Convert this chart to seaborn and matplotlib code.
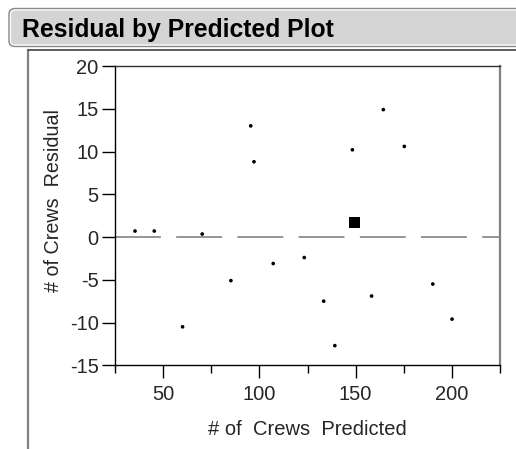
import matplotlib
matplotlib.use("Agg")
import matplotlib.pyplot as plt
import seaborn as sns
import pandas as pd
from matplotlib.patches import FancyBboxPatch
from matplotlib.lines import Line2D

# Residuals against predicted crew counts
predicted = [35.4, 45.4, 60.1, 70.3, 85.2, 95.5, 97.2, 107.2, 123.3, 133.4,
             139.2, 148.3, 158.3, 164.4, 175.3, 190.1, 200.1]
residual = [0.7, 0.7, -10.5, 0.35, -5.1, 13.0, 8.8, -3.1, -2.4, -7.5,
            -12.7, 10.2, -6.9, 14.9, 10.6, -5.5, -9.6]

# Selected row, drawn as a large square
sel_predicted = [149.3]
sel_residual = [1.7]

x_ticks = [50, 100, 150, 200]
x_minor = [25, 75, 125, 175, 225]
y_ticks = [-15, -10, -5, 0, 5, 10, 15, 20]

df = pd.DataFrame({"pred": predicted, "resid": residual})
sel = pd.DataFrame({"pred": sel_predicted, "resid": sel_residual})

sns.set_style("white")
plt.rcParams["font.family"] = ["Liberation Sans", "DejaVu Sans"]

W, H = 516, 449
PX = 72 / 100  # points per pixel at 100 dpi
fig = plt.figure(figsize=(W / 100, H / 100), dpi=100)

# Report header bar
hdr = FancyBboxPatch((9 / W, 1 - 46.5 / H), (W + 20) / W, 38 / H,
                     boxstyle="round,pad=0,rounding_size=0.012",
                     transform=fig.transFigure, facecolor="#d4d4d4",
                     edgecolor="#8a8a8a", linewidth=1.0, clip_on=False)
fig.patches.append(hdr)
inner = FancyBboxPatch((10.5 / W, 1 - 45 / H), (W + 20) / W, 35 / H,
                       boxstyle="round,pad=0,rounding_size=0.01",
                       transform=fig.transFigure, facecolor="none",
                       edgecolor="white", linewidth=0.8, clip_on=False)
fig.patches.append(inner)
fig.text(22 / W, 1 - 37.5 / H, "Residual by Predicted Plot", fontsize=17.8,
         fontweight="bold", ha="left", va="baseline", color="black")

# Outline bracket under the header
fig.lines.append(Line2D([28 / W, 28 / W], [1 - 50 / H, 0], transform=fig.transFigure,
                        color="#808080", linewidth=1.6))
fig.lines.append(Line2D([28 / W, 1], [1 - 50 / H, 1 - 50 / H], transform=fig.transFigure,
                        color="#404040", linewidth=1.2))

ax = fig.add_axes([115 / W, 1 - 365.3 / H, 385 / W, 299.3 / H])

ax.axhline(0, color="#8c8c8c", linewidth=1.3, dashes=(25.4, 8.5), zorder=1)
sns.scatterplot(data=df, x="pred", y="resid", ax=ax, color="black",
                s=7, marker="o", edgecolor="none", zorder=3)
sns.scatterplot(data=sel, x="pred", y="resid", ax=ax, color="black",
                s=68, marker="s", edgecolor="none", zorder=3)

ax.set_xlim(25, 225)
ax.set_ylim(-15, 20)
ax.set_xticks(x_ticks)
ax.set_xticks(x_minor, minor=True)
ax.set_yticks(y_ticks)
ax.set_yticklabels([str(v) for v in y_ticks])

ax.tick_params(axis="x", which="major", direction="out", length=13 * PX, width=1,
               color="black", labelsize=14.5, pad=4.5, bottom=True)
ax.tick_params(axis="x", which="minor", direction="out", length=8 * PX, width=1,
               color="black", bottom=True)
ax.tick_params(axis="y", which="major", direction="out", length=13 * PX, width=1,
               color="black", labelsize=14.5, pad=2.5, left=True)

for side in ["left", "bottom"]:
    ax.spines[side].set_color("black")
    ax.spines[side].set_linewidth(1.0)
ax.spines["top"].set_color("#303030")
ax.spines["top"].set_linewidth(1.0)
ax.spines["right"].set_color("#808080")
ax.spines["right"].set_linewidth(1.6)

ax.set_xlabel("")
ax.set_ylabel("")
fig.text(307 / W, 1 - 435 / H, "# of  Crews  Predicted", fontsize=14.5,
         ha="center", va="baseline")
fig.text(54 / W, 1 - 201 / H, "# of Crews  Residual", fontsize=14.2,
         rotation=90, ha="center", va="center")

fig.savefig("out.png", dpi=100)
